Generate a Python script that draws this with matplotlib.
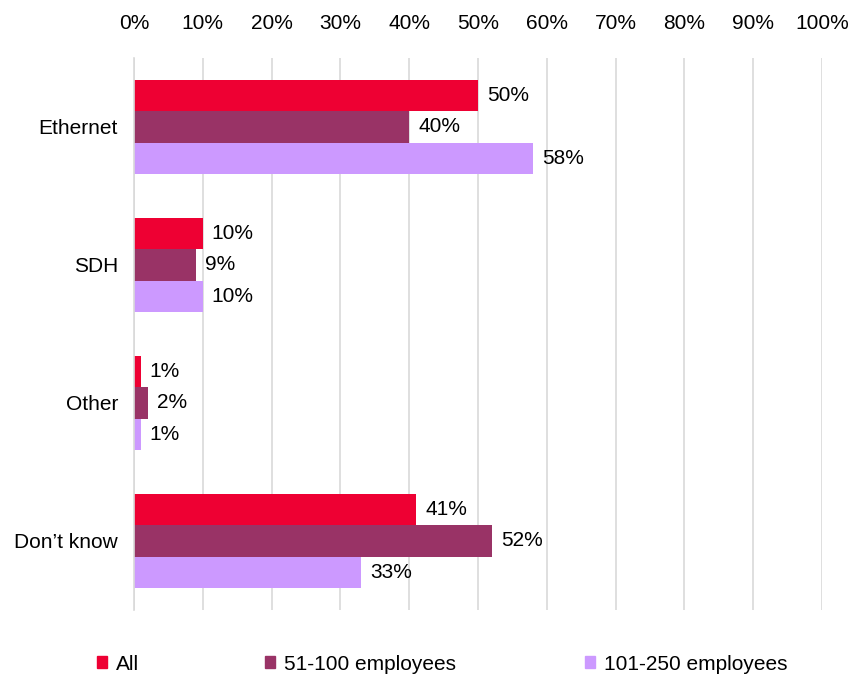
import numpy as np
import matplotlib.pyplot as plt
from matplotlib.patches import Patch

plt.rcParams['font.family'] = ['Liberation Sans', 'DejaVu Sans']

# %% data
categories = ['Ethernet', 'SDH', 'Other', 'Don\u2019t know']
series = ['All', '51-100 employees', '101-250 employees']
all_vals = [50, 10, 1, 41]
mid_vals = [40, 9, 2, 52]
large_vals = [58, 10, 1, 33]
colors = ['#EE0033', '#993366', '#CC99FF']
xticks = np.arange(0, 101, 10)

fs = 15

# %% plot
fig = plt.figure(figsize=(8.51, 6.75), dpi=100)
ax = fig.add_axes([134 / 851, 1 - 610 / 675, 688 / 851, 552 / 675])

y = np.arange(len(categories))
h = 0.225
for i, (vals, col) in enumerate(zip([all_vals, mid_vals, large_vals], colors)):
    pos = y + (i - 1) * h
    ax.barh(pos, vals, height=h, color=col, zorder=2)
    for p, v in zip(pos, vals):
        ax.text(v + 1.3, p, f'{v}%', va='center', ha='left', fontsize=fs, color='#000000')

ax.set_xlim(0, 100)
ax.set_ylim(len(categories) - 0.5, -0.5)
ax.set_yticks(y)
ax.set_yticklabels(categories, fontsize=fs)
ax.set_xticks(xticks)
ax.set_xticklabels([f'{t}%' for t in xticks], fontsize=fs)
ax.xaxis.tick_top()
ax.tick_params(axis='both', length=0)
ax.tick_params(axis='x', pad=18)
ax.tick_params(axis='y', pad=11.5)
ax.grid(axis='x', color='#D9D9D9', linewidth=1.2, zorder=0)
for s in ['top', 'right', 'bottom']:
    ax.spines[s].set_visible(False)
ax.spines['left'].set_color('#D9D9D9')
ax.spines['left'].set_linewidth(1.2)

# legend entries placed separately along the bottom
leg_x = [97, 265, 585]
for name, col, lx in zip(series, colors, leg_x):
    fig.legend(handles=[Patch(color=col)], labels=[name], loc='center left',
               bbox_to_anchor=(lx / 851, 1 - 664 / 675), frameon=False,
               fontsize=fs, handlelength=0.5, handleheight=0.5, handletextpad=0.4,
               borderpad=0, borderaxespad=0)

plt.savefig('out.png', dpi=100)
